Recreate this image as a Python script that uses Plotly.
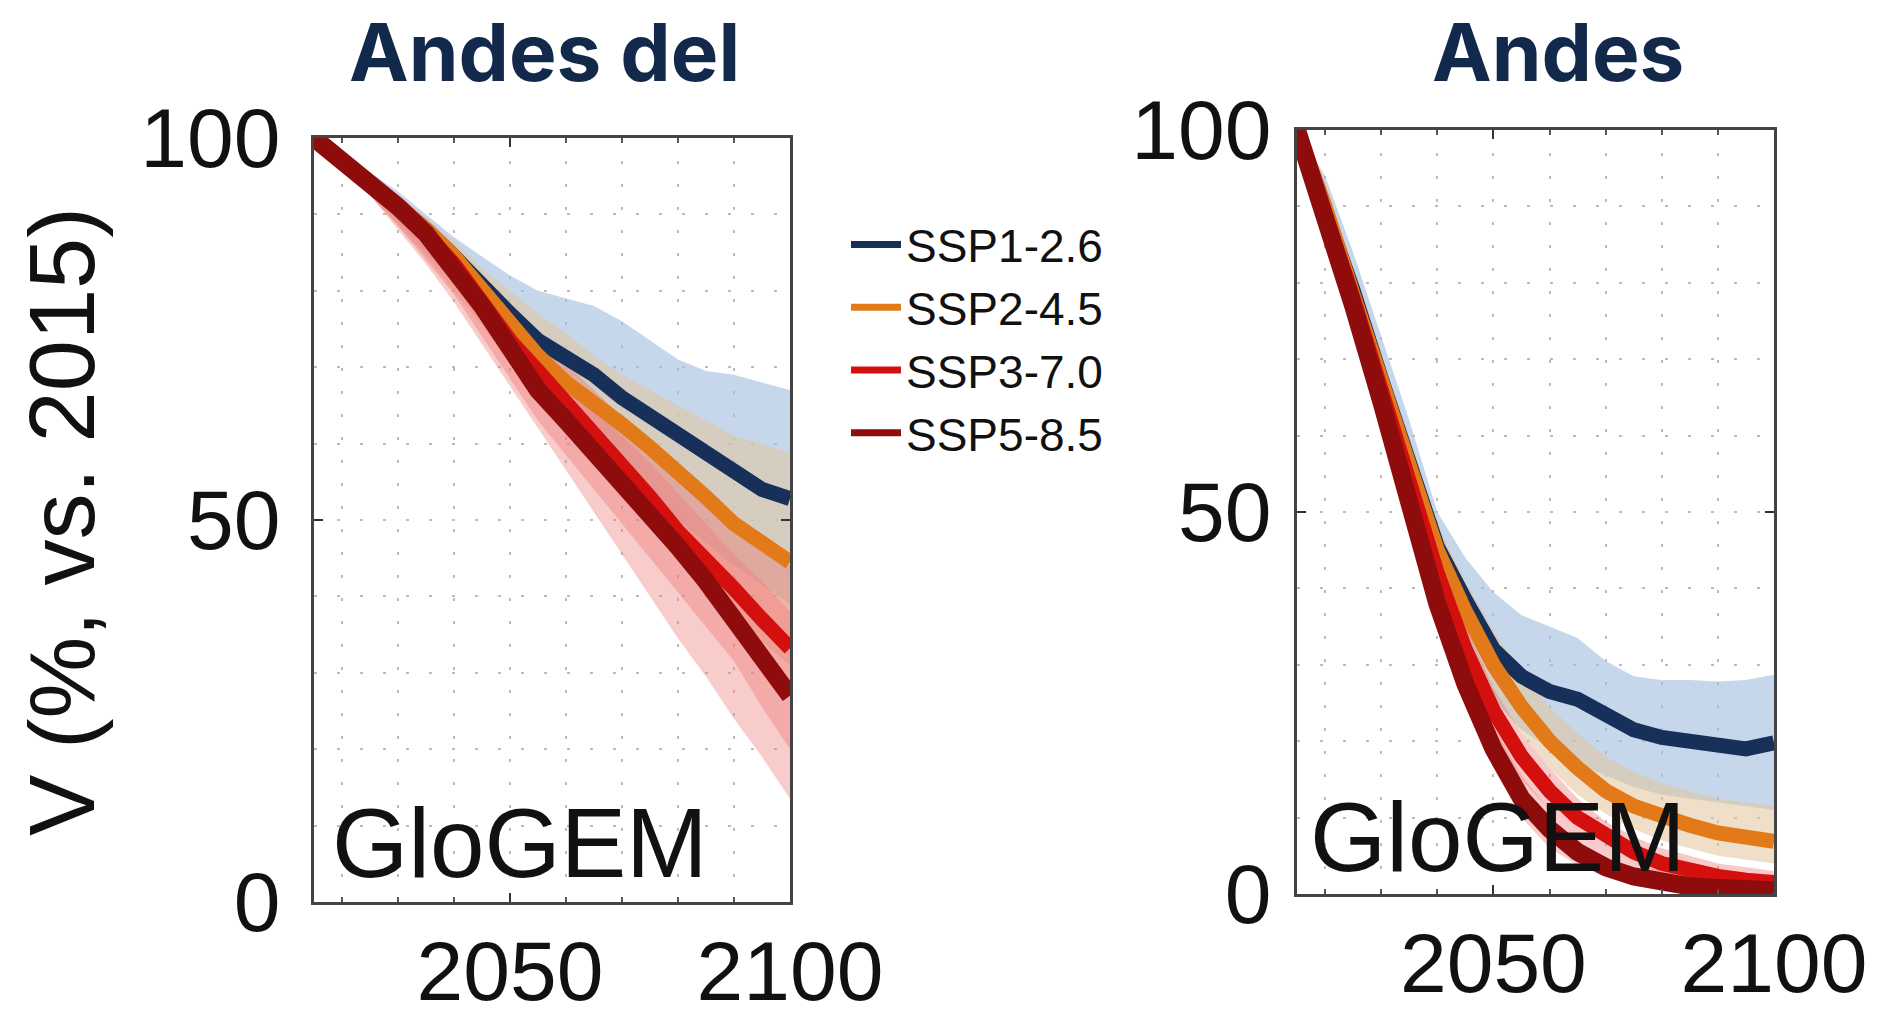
import plotly.graph_objects as go

# ---------------- data ----------------
years = [2015, 2020, 2025, 2030, 2035, 2040, 2045, 2050, 2055, 2060,
         2065, 2070, 2075, 2080, 2085, 2090, 2095, 2100]

scenarios = ["SSP1-2.6", "SSP2-4.5", "SSP3-7.0", "SSP5-8.5"]

# Andes del Sur (left panel), median and uncertainty band
sur_ssp126 = [100, 97, 94.3, 91, 88, 84.5, 80.5, 77, 73.5, 71.5, 69, 66, 63.5, 61, 58.5, 56, 54, 52.8]
sur_ssp245 = [100, 97, 94.3, 91, 88, 84.5, 80, 75.5, 71.5, 68, 65.5, 62.5, 59.5, 56.5, 53, 49.5, 47, 44.5]
sur_ssp370 = [100, 97, 94.3, 91, 87.5, 83.5, 78.5, 73.5, 69.5, 65.5, 61.5, 57.5, 53, 48.5, 45, 41, 37, 33.2]
sur_ssp585 = [100, 97, 94.3, 91, 87.5, 83, 78, 72.5, 67, 63, 59, 55, 51, 46.5, 42, 37, 32, 27]

sur_ssp126_hi = [100, 98, 95.5, 93, 90, 87, 84.5, 82, 80, 79, 78, 76, 73.5, 71, 69.5, 69, 68, 67]
sur_ssp126_lo = [100, 96, 93, 89, 85, 81, 76.5, 72, 67.5, 64, 60.5, 57, 53.5, 50, 47, 44, 41.5, 39]
sur_ssp245_hi = [100, 97.8, 95.3, 92.5, 89.5, 86.5, 83, 80, 77, 74.5, 71.5, 69, 67, 65, 63, 61, 60, 58.8]
sur_ssp245_lo = [100, 96, 92.5, 88.5, 84.5, 80, 75.5, 70.5, 66, 61.5, 57.5, 53.5, 49.5, 45.5, 41.5, 37.5, 34, 31]
sur_ssp370_hi = [100, 97.8, 95.3, 92.5, 89.5, 86, 82, 78, 74, 70.5, 67, 63.5, 60, 56.5, 53, 50, 47, 44]
sur_ssp370_lo = [100, 96, 92.5, 88.5, 84, 79.5, 74, 68.5, 63, 58.5, 54, 49.5, 45, 40.5, 36, 31.5, 25.5, 20]
sur_ssp585_hi = [100, 97.8, 95.3, 92, 89, 85.5, 81, 76.5, 71.5, 68, 64.5, 61, 57.5, 53.5, 49.5, 45.5, 42, 38]
sur_ssp585_lo = [100, 96, 92.5, 88, 83.5, 78.5, 73, 67.5, 62, 56.5, 51, 45.5, 40, 34.5, 29.5, 24, 19, 13.5]

# Andes tropicales (right panel)
tro_ssp126 = [100, 90, 79, 67.5, 56, 45.5, 38.5, 32, 28.5, 26.5, 25.5, 23.5, 21.5, 20.5, 20, 19.3, 19, 19.8]
tro_ssp245 = [100, 90, 78.5, 67, 55.5, 45, 37, 30, 24.5, 20, 16.5, 13.5, 11.5, 10, 9, 8, 7.4, 6.9]
tro_ssp370 = [100, 89.5, 78, 66, 53.5, 42, 32, 24, 18, 13.5, 10, 7.5, 5.5, 4, 3, 2.3, 1.8, 1.5]
tro_ssp585 = [100, 89, 77, 64.5, 51, 38, 27.5, 19, 12.5, 8.5, 5.5, 3.5, 2.3, 1.5, 1.0, 0.8, 0.6, 0.5]

tro_ssp126_hi = [100, 94, 84, 73, 62, 50, 44, 39.5, 36.5, 35, 33.5, 30.5, 28.5, 28, 28, 27.8, 28, 28.7]
tro_ssp126_lo = [100, 87, 74.5, 62, 50, 40, 32, 25.5, 21.5, 19, 17, 15.5, 14, 13, 12.5, 12, 11.5, 11]
tro_ssp245_hi = [100, 93, 82, 70.5, 59, 48.5, 41, 34.5, 29, 24.5, 21, 18, 16, 14.5, 13.5, 12.5, 12, 11.5]
tro_ssp245_lo = [100, 87, 75, 63.5, 51.5, 41.5, 33, 26.5, 21, 16.5, 13, 10.5, 8.5, 7, 6, 5, 4.5, 4]
tro_ssp370_hi = [100, 92, 81, 69, 56.5, 45, 35, 27, 21, 16.5, 12.5, 9.5, 7.5, 6, 5, 4, 3.5, 3]
tro_ssp370_lo = [100, 87, 75, 63, 50.5, 39, 29, 21, 15, 11, 7.5, 5.5, 4, 2.5, 1.8, 1.2, 1, 0.8]
tro_ssp585_hi = [100, 91.5, 80, 67.5, 54, 41, 30.5, 22, 15.5, 11, 7.5, 5.5, 4, 3, 2.2, 1.8, 1.5, 1.3]
tro_ssp585_lo = [100, 86.5, 74, 61.5, 48, 35, 24.5, 16.5, 10, 6, 3.8, 2.2, 1.2, 0.6, 0.3, 0.2, 0.1, 0.1]

panel_titles = ["Andes del", "Andes"]
y_title = "V (%, vs. 2015)"
model_label = "GloGEM"
x_tickvals = [2050, 2100]
y_tickvals = [0, 50, 100]

# ---------------- styles ----------------
line_colors = ["#16305a", "#e27a1a", "#d4100f", "#8e0c0c"]
band_colors = ["rgba(160,188,222,0.6)", "rgba(226,196,155,0.55)",
               "rgba(238,110,110,0.38)", "rgba(238,120,120,0.38)"]
line_widths = [15, 15, 15, 18]
FONT = "Liberation Sans, Arial, Helvetica, sans-serif"
TITLE_FONT = "Inter, Open Sans, sans-serif"
TXT = "#111111"

# the page's body margin is removed (post_script below), so the figure fills the window
W, H = 1881, 1024
# plot boxes in page pixels (left, right, top, bottom)
boxes = [(314, 790, 138, 902), (1297, 1774, 130, 894)]

def px(x):
    return x / W

def py(y):
    return 1 - y / H

panels = [
    dict(med=[sur_ssp126, sur_ssp245, sur_ssp370, sur_ssp585],
         lo=[sur_ssp126_lo, sur_ssp245_lo, sur_ssp370_lo, sur_ssp585_lo],
         hi=[sur_ssp126_hi, sur_ssp245_hi, sur_ssp370_hi, sur_ssp585_hi]),
    dict(med=[tro_ssp126, tro_ssp245, tro_ssp370, tro_ssp585],
         lo=[tro_ssp126_lo, tro_ssp245_lo, tro_ssp370_lo, tro_ssp585_lo],
         hi=[tro_ssp126_hi, tro_ssp245_hi, tro_ssp370_hi, tro_ssp585_hi]),
]

fig = go.Figure()

for p, panel in enumerate(panels):
    xa = "x" if p == 0 else "x2"
    ya = "y" if p == 0 else "y2"
    for i in range(4):
        fig.add_trace(go.Scatter(
            x=years + years[::-1], y=panel["hi"][i] + panel["lo"][i][::-1],
            fill="toself", fillcolor=band_colors[i], line=dict(width=0),
            mode="lines", hoverinfo="skip", showlegend=False, xaxis=xa, yaxis=ya))
    for i in range(4):
        fig.add_trace(go.Scatter(
            x=years, y=panel["med"][i], mode="lines", name=scenarios[i],
            line=dict(color=line_colors[i], width=line_widths[i]),
            showlegend=False, xaxis=xa, yaxis=ya))

# legend-only entries (thin samples like the original)
for i in range(4):
    fig.add_trace(go.Scatter(x=[None], y=[None], mode="lines", name=scenarios[i],
                             line=dict(color=line_colors[i], width=7),
                             showlegend=True, xaxis="x", yaxis="y"))

GRID = "#bdbdbd"
DASH = "3px,20px"

def xaxis_cfg(box):
    l, r, t, b = box
    return dict(domain=[px(l), px(r)], range=[2015, 2100], tickvals=x_tickvals,
                ticks="inside", ticklen=9, tickwidth=2, tickcolor="#333",
                showline=True, linecolor="#444", linewidth=2.5, mirror="ticks",
                showgrid=True, gridcolor=GRID, gridwidth=2, griddash=DASH,
                minor=dict(dtick=10, tick0=2020, showgrid=True, gridcolor=GRID,
                           gridwidth=2, griddash=DASH, ticks="inside",
                           ticklen=5, tickcolor="#555"),
                tickfont=dict(family=FONT, size=84, color=TXT),
                ticklabelstandoff=-6, zeroline=False, fixedrange=True,
                automargin=False)

def yaxis_cfg(box, standoff):
    l, r, t, b = box
    return dict(domain=[py(b), py(t)], range=[0, 100], tickvals=y_tickvals,
                ticks="inside", ticklen=9, tickwidth=2, tickcolor="#333",
                showline=True, linecolor="#444", linewidth=2.5, mirror="ticks",
                showgrid=True, gridcolor=GRID, gridwidth=2, griddash=DASH,
                minor=dict(dtick=10, showgrid=True, gridcolor=GRID,
                           gridwidth=2, griddash=DASH),
                tickfont=dict(family=FONT, size=84, color=TXT),
                ticklabelstandoff=standoff, zeroline=False, fixedrange=True,
                automargin=False)

fig.update_layout(
    template="none",
    width=W, height=H, autosize=False,
    margin=dict(l=0, r=0, t=0, b=0, pad=0, autoexpand=False),
    paper_bgcolor="white", plot_bgcolor="white",
    xaxis=dict(anchor="y", **xaxis_cfg(boxes[0])),
    yaxis=dict(anchor="x", **yaxis_cfg(boxes[0], 14)),
    xaxis2=dict(anchor="y2", **xaxis_cfg(boxes[1])),
    yaxis2=dict(anchor="x2", **yaxis_cfg(boxes[1], 6)),
    legend=dict(x=px(846), y=py(208), xanchor="left", yanchor="top",
                bgcolor="rgba(0,0,0,0)", font=dict(family=FONT, size=46, color=TXT),
                itemwidth=50, tracegroupgap=0, traceorder="normal", borderwidth=0),
    showlegend=True,
)

annotations = [
    dict(text=panel_titles[0], x=px(544), y=py(1), xref="paper", yref="paper",
         xanchor="center", yanchor="top", showarrow=False,
         font=dict(family=TITLE_FONT, size=80, color="#13294b", weight="bold")),
    dict(text=panel_titles[1], x=px(1558), y=py(1), xref="paper", yref="paper",
         xanchor="center", yanchor="top", showarrow=False,
         font=dict(family=TITLE_FONT, size=80, color="#13294b", weight="bold")),
    dict(text=y_title, x=px(62), y=py(522), xref="paper", yref="paper",
         xanchor="center", yanchor="middle", textangle=-90, showarrow=False,
         font=dict(family=FONT, size=92, color=TXT)),
    dict(text=model_label, x=0.034, y=0.077, xref="x domain", yref="y domain",
         xanchor="left", yanchor="middle", showarrow=False,
         font=dict(family=FONT, size=98, color=TXT)),
    dict(text=model_label, x=0.023, y=0.075, xref="x2 domain", yref="y2 domain",
         xanchor="left", yanchor="middle", showarrow=False,
         font=dict(family=FONT, size=98, color=TXT)),
]
fig.update_layout(annotations=annotations)

fig.write_html(
    "out.html",
    config={"displayModeBar": False},
    post_script="document.body.style.margin='0px';document.body.style.overflow='hidden';",
)
